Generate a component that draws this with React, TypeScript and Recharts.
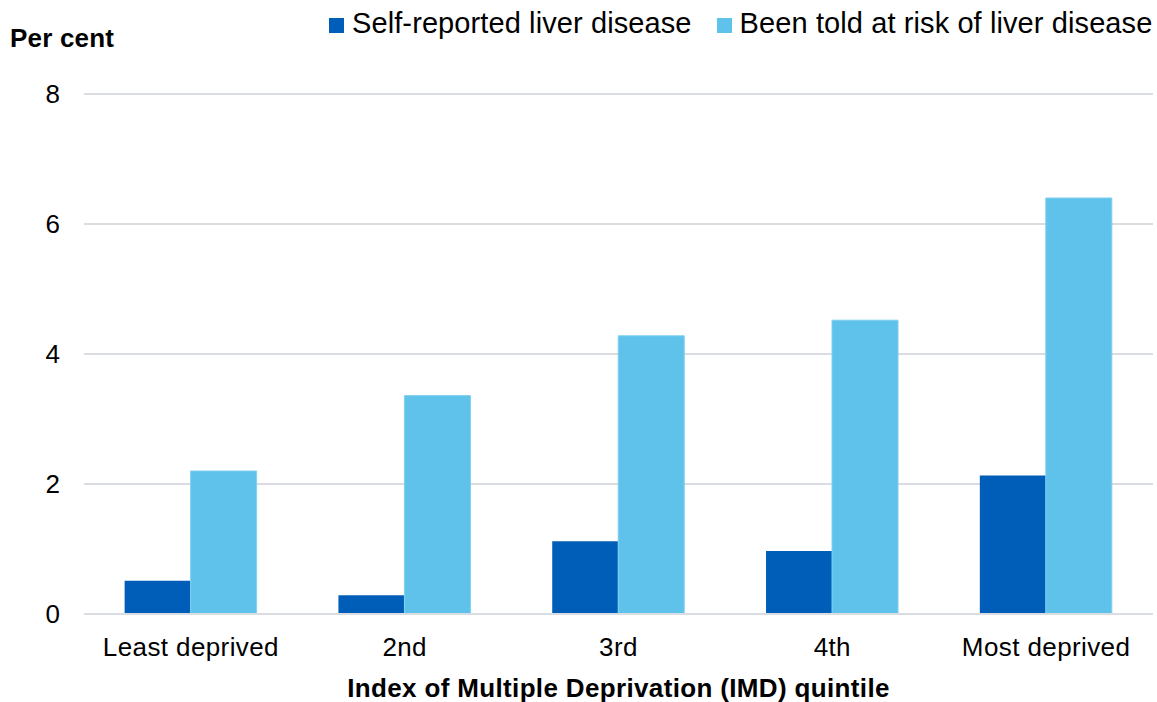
import React from 'react';
import { BarChart, Bar, XAxis, YAxis, CartesianGrid, Legend } from 'recharts';

const categories = ['Least deprived', '2nd', '3rd', '4th', 'Most deprived'];
const selfReported = [0.51, 0.29, 1.12, 0.97, 2.13];
const toldAtRisk = [2.2, 3.36, 4.28, 4.52, 6.4];
const yTicks = [0, 2, 4, 6, 8];

const SERIES_A = 'Self-reported liver disease';
const SERIES_B = 'Been told at risk of liver disease';
const seriesOrder = [SERIES_A, SERIES_B];

const data = categories.map((c, i) => ({
  name: c,
  a: selfReported[i],
  b: toldAtRisk[i],
}));

const FONT = '"Liberation Sans", Arial, sans-serif';

const renderLegend = (props: any) => {
  const raw = props.payload || [];
  const payload = [...raw].sort(
    (p: any, q: any) => seriesOrder.indexOf(p.value) - seriesOrder.indexOf(q.value)
  );
  return (
    <div
      style={{
        display: 'flex',
        alignItems: 'center',
        fontFamily: FONT,
        fontSize: 29,
        lineHeight: '29px',
        letterSpacing: '0.1px',
        color: '#000',
        whiteSpace: 'nowrap',
      }}
    >
      {payload.map((entry: any, i: number) => (
        <div
          key={i}
          style={{ display: 'flex', alignItems: 'center', marginRight: i === 0 ? 25 : 0 }}
        >
          <span
            style={{
              display: 'inline-block',
              width: 15,
              height: 15,
              background: entry.color,
              marginRight: 8,
              position: 'relative',
              top: 2,
            }}
          />
          <span>{entry.value}</span>
        </div>
      ))}
    </div>
  );
};

export default function App() {
  return (
    <div style={{ position: 'absolute', left: 0, top: 0, width: 1157, height: 702, background: '#fff' }}>
      <BarChart
        width={1157}
        height={702}
        data={data}
        margin={{ top: 94, right: 4, bottom: 0, left: 0 }}
        barCategoryGap="19%"
        barGap={0}
      >
        <CartesianGrid horizontal vertical={false} stroke="#D9DCE0" strokeWidth={2} />
        <XAxis
          dataKey="name"
          height={88}
          tickLine={false}
          axisLine={{ stroke: '#D9DCE0', strokeWidth: 2 }}
          tickSize={0}
          tickMargin={24}
          tick={{ fill: '#000', fontSize: 26, fontFamily: FONT, letterSpacing: 0.4 }}
          interval={0}
          label={{
            content: (p: any) => {
              const vb = p.viewBox || { x: 84, y: 614, width: 1068 };
              return (
                <text
                  x={vb.x + vb.width / 2}
                  y={vb.y + 83}
                  textAnchor="middle"
                  fontFamily={FONT}
                  fontSize={26}
                  fontWeight="bold"
                  letterSpacing={0.35}
                  fill="#000"
                >
                  Index of Multiple Deprivation (IMD) quintile
                </text>
              );
            },
          }}
        />
        <YAxis
          width={84}
          domain={[0, 8]}
          ticks={yTicks}
          tickLine={false}
          axisLine={false}
          tickSize={0}
          tickMargin={24}
          tick={{ fill: '#000', fontSize: 26, fontFamily: FONT }}
          label={{
            content: (p: any) => {
              const vb = p.viewBox || { x: 0, y: 94 };
              return (
                <text
                  x={vb.x + 10}
                  y={vb.y - 47}
                  textAnchor="start"
                  fontFamily={FONT}
                  fontSize={26}
                  fontWeight="bold"
                  letterSpacing={0.2}
                  fill="#000"
                >
                  Per cent
                </text>
              );
            },
          }}
        />
        <Legend
          layout="horizontal"
          verticalAlign="middle"
          align="center"
          itemSorter="dataKey"
          content={renderLegend}
          wrapperStyle={{ top: 9, left: 329, width: 'auto', right: 'auto', bottom: 'auto' }}
        />
        <Bar dataKey="a" name={SERIES_A} fill="#005EB8" isAnimationActive={false} />
        <Bar dataKey="b" name={SERIES_B} fill="#5FC2EA" stroke="#7FD0EF" strokeWidth={1} isAnimationActive={false} />
      </BarChart>
    </div>
  );
}
